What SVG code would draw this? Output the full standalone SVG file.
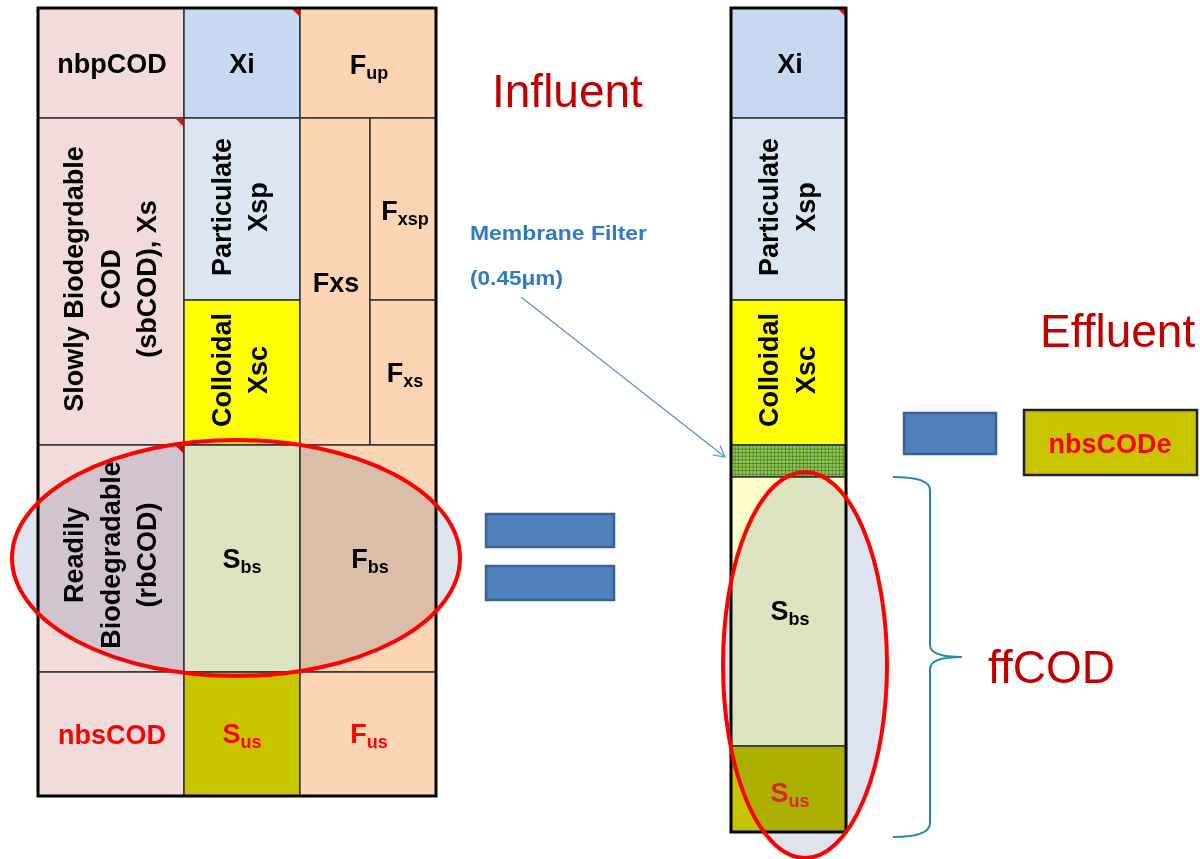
<svg xmlns="http://www.w3.org/2000/svg" width="1200" height="859" viewBox="0 0 1200 859">
<style>
.cell{stroke:#333;stroke-width:1.5}
.lbl{font-family:"Liberation Sans",Arial,sans-serif;font-weight:bold;font-size:27px;fill:#000;text-anchor:middle}
.red{fill:#ff0000}
.sub{font-size:18px}
.big{font-family:"Liberation Sans",Arial,sans-serif;font-size:46px;fill:#c00000}
.blue{font-family:"Liberation Sans",Arial,sans-serif;font-weight:bold;font-size:21px;fill:#2e7bc4}
.box{fill:none;stroke:#000;stroke-width:3}
.tri{fill:#ff0000}
.eq{fill:#4f81bd;stroke:#3a6190;stroke-width:2.5}
.ellf{fill:#dde4f0;mix-blend-mode:multiply}
.ells{fill:none;stroke:#ff0000;stroke-width:4}
</style>
<defs>
<pattern id="grid" width="3.6" height="3.6" patternUnits="userSpaceOnUse" x="731" y="445">
<rect width="3.6" height="3.6" fill="#8cc850"/>
<path d="M0,0H3.6M0,0V3.6" stroke="#244a10" stroke-width="0.9" fill="none"/>
</pattern>
<marker id="arr" markerWidth="14" markerHeight="14" refX="12" refY="7" orient="auto" markerUnits="userSpaceOnUse">
<path d="M1,1 L12,7 L1,13" fill="none" stroke="#5b8fd0" stroke-width="1.2"/>
</marker>
</defs>
<rect width="1200" height="859" fill="#fff"/>

<g id="influent-table">
<g id="nbpCOD"><rect class="cell" x="38" y="8" width="146" height="110" fill="#f2dcdb"/><text class="lbl" x="112" y="73">nbpCOD</text></g>
<g id="Xi-in"><rect class="cell" x="184" y="8" width="116" height="110" fill="#c6d9f1"/><text class="lbl" x="242" y="73">Xi</text><polygon class="tri" points="292,9 299,9 299,16"/></g>
<g id="Fup"><rect class="cell" x="300" y="8" width="136" height="110" fill="#fcd5b5"/><text class="lbl" x="369" y="74">F<tspan class="sub" dy="5">up</tspan></text></g>
<g id="sbCOD"><rect class="cell" x="38" y="118" width="146" height="327" fill="#f2dcdb"/><polygon class="tri" points="176,119 183,119 183,126"/>
<g transform="translate(0,279) rotate(-90)"><text class="lbl" x="0" y="83">Slowly Biodegrdable</text><text class="lbl" x="0" y="120">COD</text><text class="lbl" x="0" y="156">(sbCOD), Xs</text></g></g>
<g id="Xsp-in"><rect class="cell" x="184" y="118" width="116" height="182" fill="#dce6f2"/>
<g transform="translate(0,207) rotate(-90)"><text class="lbl" x="0" y="231">Particulate</text><text class="lbl" x="0" y="267">Xsp</text></g></g>
<g id="Xsc-in"><rect class="cell" x="184" y="300" width="116" height="145" fill="#ffff00"/>
<g transform="translate(0,370) rotate(-90)"><text class="lbl" x="0" y="231">Colloidal</text><text class="lbl" x="0" y="267">Xsc</text></g></g>
<g id="Fxs"><rect class="cell" x="300" y="118" width="70" height="327" fill="#fcd5b5"/><text class="lbl" x="336" y="292">Fxs</text></g>
<g id="Fxsp"><rect class="cell" x="370" y="118" width="66" height="182" fill="#fcd5b5"/><text class="lbl" x="405" y="220">F<tspan class="sub" dy="5">xsp</tspan></text></g>
<g id="Fxs-sub"><rect class="cell" x="370" y="300" width="66" height="145" fill="#fcd5b5"/><text class="lbl" x="405" y="382">F<tspan class="sub" dy="5">xs</tspan></text></g>
<g id="rbCOD"><rect class="cell" x="38" y="445" width="146" height="227" fill="#f2dcdb"/><polygon class="tri" points="176,446 183,446 183,453"/>
<g transform="translate(0,555) rotate(-90)"><text class="lbl" x="0" y="83">Readily</text><text class="lbl" x="0" y="120">Biodegradable</text><text class="lbl" x="0" y="156">(rbCOD)</text></g></g>
<g id="Sbs-in"><rect class="cell" x="184" y="445" width="116" height="227" fill="#ffffcc"/><text class="lbl" x="242" y="568">S<tspan class="sub" dy="5">bs</tspan></text></g>
<g id="Fbs"><rect class="cell" x="300" y="445" width="136" height="227" fill="#fcd5b5"/><text class="lbl" x="370" y="568">F<tspan class="sub" dy="5">bs</tspan></text></g>
<g id="nbsCOD"><rect class="cell" x="38" y="672" width="146" height="124" fill="#f2dcdb"/><text class="lbl red" x="112" y="744">nbsCOD</text></g>
<g id="Sus-in"><rect class="cell" x="184" y="672" width="116" height="124" fill="#c8c400"/><text class="lbl red" x="242" y="743">S<tspan class="sub" dy="5">us</tspan></text></g>
<g id="Fus"><rect class="cell" x="300" y="672" width="136" height="124" fill="#fcd5b5"/><text class="lbl red" x="369" y="743">F<tspan class="sub" dy="5">us</tspan></text></g>
<rect class="box" x="38" y="8" width="398" height="788"/>
</g>

<g id="effluent-column">
<g id="Xi-out"><rect class="cell" x="731" y="8" width="115" height="110" fill="#c6d9f1"/><text class="lbl" x="790" y="73">Xi</text><polygon class="tri" points="838,9 845,9 845,16"/></g>
<g id="Xsp-out"><rect class="cell" x="731" y="118" width="115" height="182" fill="#dce6f2"/>
<g transform="translate(0,207) rotate(-90)"><text class="lbl" x="0" y="778">Particulate</text><text class="lbl" x="0" y="815">Xsp</text></g></g>
<g id="Xsc-out"><rect class="cell" x="731" y="300" width="115" height="145" fill="#ffff00"/>
<g transform="translate(0,370) rotate(-90)"><text class="lbl" x="0" y="778">Colloidal</text><text class="lbl" x="0" y="815">Xsc</text></g></g>
<g id="membrane"><rect class="cell" x="731" y="445" width="115" height="32" fill="url(#grid)"/></g>
<g id="Sbs-out"><rect class="cell" x="731" y="477" width="115" height="269" fill="#ffffcc"/><text class="lbl" x="790" y="620">S<tspan class="sub" dy="5">bs</tspan></text></g>
<g id="Sus-out"><rect class="cell" x="731" y="746" width="115" height="86" fill="#c8c400"/><text class="lbl" x="790" y="802" style="fill:#ff2a2a">S<tspan class="sub" dy="5">us</tspan></text></g>
<rect class="box" x="731" y="8" width="115" height="824"/>
</g>

<g id="rbCOD-ellipse"><ellipse class="ellf" cx="236" cy="558" rx="224" ry="118"/><ellipse class="ells" cx="236" cy="558" rx="224" ry="118"/></g>
<g id="ffCOD-ellipse"><ellipse class="ellf" cx="805" cy="665" rx="82" ry="193"/><ellipse class="ells" cx="805" cy="665" rx="82" ry="193"/></g>

<g id="equals"><rect class="eq" x="486" y="514" width="128" height="33"/><rect class="eq" x="486" y="566" width="128" height="34"/></g>
<g id="minus"><rect class="eq" x="904" y="413" width="92" height="41"/></g>
<g id="nbsCODe"><rect x="1024" y="410" width="173" height="65" fill="#c8c400" stroke="#222" stroke-width="2.5"/><text class="lbl red" x="1110" y="453">nbsCODe</text></g>

<g id="titles">
<text class="big" x="492" y="107">Influent</text>
<text class="big" x="1040" y="347">Effluent</text>
<text class="big" x="988" y="683">ffCOD</text>
</g>

<g id="filter-label">
<text class="blue" x="470" y="240" textLength="177" lengthAdjust="spacingAndGlyphs">Membrane Filter</text>
<text class="blue" x="470" y="285" textLength="93" lengthAdjust="spacingAndGlyphs">(0.45μm)</text>
</g>

<g id="connectors">
<line x1="521" y1="297" x2="725" y2="457" stroke="#5b8fd0" stroke-width="1.2" marker-end="url(#arr)"/>
<path d="M893,477 Q930,477 930,490 L930,645 Q930,657 962,657 Q930,657 930,669 L930,823 Q930,837 893,837" fill="none" stroke="#1f8aad" stroke-width="2"/>
</g>
</svg>
